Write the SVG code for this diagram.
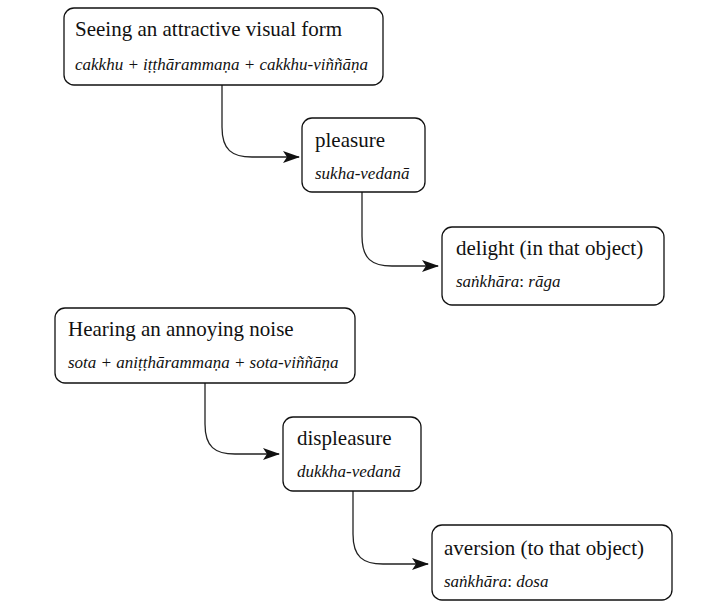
<svg xmlns="http://www.w3.org/2000/svg" width="727" height="610" viewBox="0 0 727 610">
<style>
.box{fill:#fff;stroke:#111;stroke-width:1.3}
.t{font-family:"Liberation Serif",serif;font-size:21px;fill:#111}
.s{font-family:"Liberation Serif",serif;font-size:17px;font-style:italic;fill:#111}
.u{font-style:normal}
.c{fill:none;stroke:#222;stroke-width:1.3}
</style>
<defs>
<marker id="ah" markerWidth="18" markerHeight="12" refX="16" refY="6" orient="auto" markerUnits="userSpaceOnUse">
<path d="M0,0 L17,6 L0,12 L4,6 Z" fill="#111"/>
</marker>
</defs>
<rect width="727" height="610" fill="#fff"/>
<g id="connectors">
<path class="c" d="M222,85 V127 C222,150 232,157 252,157 H299" marker-end="url(#ah)"/>
<path class="c" d="M362,192 V236 C362,259 372,266 392,266 H438" marker-end="url(#ah)"/>
<path class="c" d="M205,383 V424 C205,447 215,454 235,454 H279" marker-end="url(#ah)"/>
<path class="c" d="M353,491 V534 C353,557 363,564 383,564 H428" marker-end="url(#ah)"/>
</g>
<g id="n1">
<rect class="box" x="64" y="8" width="319" height="77" rx="10"/>
<text class="t" x="75" y="36">Seeing an attractive visual form</text>
<text class="s" x="75" y="70">cakkhu + iṭṭhārammaṇa + cakkhu-viññāṇa</text>
</g>
<g id="n2">
<rect class="box" x="302" y="118" width="123" height="74" rx="10"/>
<text class="t" x="315" y="147">pleasure</text>
<text class="s" x="315" y="179">sukha-vedanā</text>
</g>
<g id="n3">
<rect class="box" x="442" y="227" width="222" height="78" rx="10"/>
<text class="t" x="456" y="255">delight (in that object)</text>
<text class="s" x="456" y="287">saṅkhāra<tspan class="u">:</tspan> rāga</text>
</g>
<g id="n4">
<rect class="box" x="55" y="308" width="300" height="75" rx="10"/>
<text class="t" x="68" y="336">Hearing an annoying noise</text>
<text class="s" x="68" y="368">sota + aniṭṭhārammaṇa + sota-viññāṇa</text>
</g>
<g id="n5">
<rect class="box" x="283" y="417" width="138" height="74" rx="10"/>
<text class="t" x="297" y="445">displeasure</text>
<text class="s" x="297" y="477">dukkha-vedanā</text>
</g>
<g id="n6">
<rect class="box" x="432" y="525" width="240" height="75" rx="10"/>
<text class="t" x="444" y="555">aversion (to that object)</text>
<text class="s" x="444" y="587">saṅkhāra<tspan class="u">:</tspan> dosa</text>
</g>
</svg>
